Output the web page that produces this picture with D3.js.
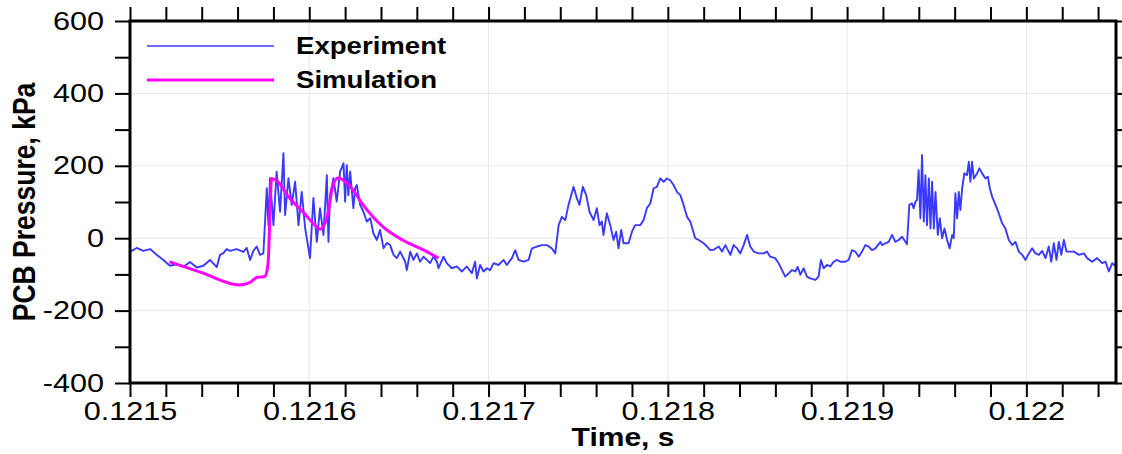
<!DOCTYPE html>
<html>
<head>
<meta charset="utf-8">
<script src="https://cdn.jsdelivr.net/npm/d3@7"></script>
<style>
  body { margin: 0; background: #fff; }
  svg { display: block; font-family: "Liberation Sans", Arial, sans-serif; }
</style>
</head>
<body>
<svg id="chart" width="1122" height="454"></svg>
<script>
// Experiment trace (time in s, pressure in kPa)
const expTime = [
  0.1215000, 0.1215037, 0.1215074, 0.1215112, 0.1215149, 0.1215186, 0.1215223, 0.1215260,
  0.1215298, 0.1215335, 0.1215372, 0.1215409, 0.1215446, 0.1215484, 0.1215502, 0.1215521,
  0.1215539, 0.1215558, 0.1215595, 0.1215632, 0.1215651, 0.1215670, 0.1215688, 0.1215707,
  0.1215725, 0.1215744, 0.1215763, 0.1215772, 0.1215781, 0.1215800, 0.1215818, 0.1215837,
  0.1215856, 0.1215865, 0.1215884, 0.1215902, 0.1215921, 0.1215940, 0.1215958, 0.1215977,
  0.1216004, 0.1216023, 0.1216042, 0.1216060, 0.1216079, 0.1216098, 0.1216107, 0.1216116,
  0.1216135, 0.1216153, 0.1216172, 0.1216191, 0.1216200, 0.1216209, 0.1216218, 0.1216228,
  0.1216246, 0.1216256, 0.1216265, 0.1216284, 0.1216302, 0.1216321, 0.1216340, 0.1216358,
  0.1216377, 0.1216395, 0.1216414, 0.1216433, 0.1216451, 0.1216470, 0.1216488, 0.1216507,
  0.1216535, 0.1216544, 0.1216563, 0.1216581, 0.1216600, 0.1216618, 0.1216637, 0.1216656,
  0.1216674, 0.1216693, 0.1216712, 0.1216721, 0.1216749, 0.1216767, 0.1216795, 0.1216823,
  0.1216851, 0.1216879, 0.1216907, 0.1216925, 0.1216935, 0.1216953, 0.1216972, 0.1216991,
  0.1217009, 0.1217028, 0.1217056, 0.1217084, 0.1217102, 0.1217130, 0.1217149, 0.1217167,
  0.1217195, 0.1217223, 0.1217242, 0.1217270, 0.1217298, 0.1217325, 0.1217353, 0.1217372,
  0.1217391, 0.1217409, 0.1217428, 0.1217446, 0.1217474, 0.1217493, 0.1217507, 0.1217526,
  0.1217545, 0.1217563, 0.1217586, 0.1217604, 0.1217619, 0.1217632, 0.1217641, 0.1217660,
  0.1217679, 0.1217697, 0.1217712, 0.1217725, 0.1217740, 0.1217753, 0.1217781, 0.1217800,
  0.1217818, 0.1217846, 0.1217865, 0.1217883, 0.1217902, 0.1217921, 0.1217939, 0.1217958,
  0.1217977, 0.1217995, 0.1218014, 0.1218032, 0.1218051, 0.1218070, 0.1218088, 0.1218107,
  0.1218125, 0.1218153, 0.1218172, 0.1218200, 0.1218219, 0.1218237, 0.1218256, 0.1218284,
  0.1218302, 0.1218321, 0.1218349, 0.1218367, 0.1218386, 0.1218404, 0.1218423, 0.1218442,
  0.1218460, 0.1218479, 0.1218507, 0.1218535, 0.1218553, 0.1218571, 0.1218599, 0.1218618,
  0.1218637, 0.1218655, 0.1218674, 0.1218693, 0.1218711, 0.1218724, 0.1218739, 0.1218758,
  0.1218776, 0.1218795, 0.1218823, 0.1218841, 0.1218854, 0.1218869, 0.1218888, 0.1218906,
  0.1218925, 0.1218944, 0.1218962, 0.1218990, 0.1219009, 0.1219027, 0.1219046, 0.1219065,
  0.1219083, 0.1219102, 0.1219121, 0.1219139, 0.1219158, 0.1219186, 0.1219195, 0.1219214,
  0.1219232, 0.1219251, 0.1219269, 0.1219288, 0.1219307, 0.1219325, 0.1219334, 0.1219347,
  0.1219362, 0.1219371, 0.1219381, 0.1219390, 0.1219399, 0.1219409, 0.1219418, 0.1219428,
  0.1219437, 0.1219446, 0.1219456, 0.1219465, 0.1219474, 0.1219484, 0.1219493, 0.1219506,
  0.1219517, 0.1219530, 0.1219543, 0.1219558, 0.1219572, 0.1219586, 0.1219595, 0.1219604,
  0.1219614, 0.1219623, 0.1219632, 0.1219642, 0.1219654, 0.1219669, 0.1219679, 0.1219688,
  0.1219697, 0.1219707, 0.1219725, 0.1219738, 0.1219753, 0.1219772, 0.1219785, 0.1219796,
  0.1219809, 0.1219828, 0.1219846, 0.1219865, 0.1219883, 0.1219902, 0.1219921, 0.1219939,
  0.1219958, 0.1219977, 0.1219995, 0.1220014, 0.1220032, 0.1220051, 0.1220070, 0.1220088,
  0.1220107, 0.1220125, 0.1220139, 0.1220153, 0.1220168, 0.1220181, 0.1220195, 0.1220209,
  0.1220224, 0.1220237, 0.1220265, 0.1220293, 0.1220321, 0.1220339, 0.1220367, 0.1220395,
  0.1220423, 0.1220442, 0.1220460, 0.1220479, 0.1220498
];
const expPressure = [
  -38, -27, -35, -30, -46, -60, -76, -72,
  -79, -66, -81, -76, -60, -80, -46, -41,
  -30, -35, -30, -38, -27, -60, -35, -23,
  -46, -42, 138, 36, 166, 36, 184, 73,
  235, 64, 166, 92, 156, 36, 128, 28,
  -55, 111, -10, 83, 9, 174, -10, 119,
  166, 101, 184, 207, 101, 202, 119, 184,
  83, 138, 147, 92, 73, 46, 55, 13,
  -5, 23, -28, -13, -19, -46, -55, -37,
  -65, -88, -37, -60, -42, -65, -51, -60,
  -69, -51, -65, -83, -51, -69, -83, -78,
  -92, -78, -97, -65, -111, -74, -92, -83,
  -88, -69, -74, -60, -74, -55, -33, -60,
  -65, -60, -28, -23, -19, -19, -28, -42,
  36, 59, 50, 92, 142, 110, 92, 142,
  119, 73, 50, 83, 36, 46, 9, 69,
  36, -5, 18, -28, 23, -14, -14, 18,
  36, 36, 50, 83, 96, 138, 142, 165,
  156, 165, 160, 147, 128, 119, 92, 59,
  46, 0, -5, -14, -23, -33, -32, -23,
  -37, -19, -46, -19, -28, -42, -19, 9,
  -23, -37, -42, -42, -37, -51, -55, -69,
  -88, -106, -97, -88, -92, -79, -101, -83,
  -106, -111, -115, -106, -60, -83, -74, -78,
  -65, -60, -65, -65, -60, -33, -37, -51,
  -37, -19, -23, -33, -28, -10, -19, -14,
  -10, 9, -10, -5, 4, -10, -17, 92,
  96, 83, 101, 106, 188, 55, 230, 46,
  174, 36, 165, 27, 156, 27, 128, 9,
  55, 0, 27, -5, -28, 9, 0, 124,
  55, 128, 78, 138, 179, 174, 211, 156,
  211, 165, 179, 193, 179, 165, 170, 138,
  115, 92, 69, 41, 27, -5, -19, -10,
  -37, -46, -60, -42, -28, -42, -46, -35,
  -55, -23, -65, -14, -60, -10, -46, -5,
  -37, -37, -37, -46, -42, -55, -65, -55,
  -69, -65, -92, -69, -78
];

// Simulation curve
const simTime = [
  0.121522, 0.121540, 0.121561, 0.121567, 0.121571, 0.1215753, 0.121577, 0.121579,
  0.121582, 0.121589, 0.121597, 0.121604, 0.121606, 0.121610, 0.121613, 0.121616,
  0.121623, 0.121630, 0.121641, 0.121652, 0.121664, 0.121672
];
const simPressure = [
  -65, -95, -129, -122, -108, -106, -70, 165,
  158, 111, 70, 32, 25, 59, 142, 166,
  142, 92, 32, -5, -33, -55
];

const xMajor = [0.1215, 0.1216, 0.1217, 0.1218, 0.1219, 0.122];
const xLabels = ['0.1215', '0.1216', '0.1217', '0.1218', '0.1219', '0.122'];
const yMajor = [-400, -200, 0, 200, 400, 600];
const yLabels = ['-400', '-200', '0', '200', '400', '600'];
const yMinor = [-300, -100, 100, 300, 500];
const seriesNames = ['Experiment', 'Simulation'];
const seriesColors = ['#3a3aff', '#ff00ff'];

const SX = 1.2; // text in the source is drawn a bit wide
const plotL = 130, plotR = 1116, plotT = 21, plotB = 383;

const svg = d3.select('#chart');
const x = d3.scaleLinear().domain([0.1215, 0.12205]).range([plotL, plotR]);
const y = d3.scaleLinear().domain([-400, 600]).range([plotB, plotT]);
const xMinor = d3.range(0, 28).map(i => 0.1215 + i * 0.00002);
const xMinorOnly = xMinor.filter(d => !xMajor.some(m => Math.abs(m - d) < 1e-9));

// grid
const grid = svg.append('g').attr('stroke', '#e6e6e6').attr('stroke-width', 1);
grid.selectAll('.gx').data(xMajor.slice(1)).join('line').attr('class', 'gx')
  .attr('x1', d => x(d)).attr('x2', d => x(d)).attr('y1', plotT).attr('y2', plotB);
grid.selectAll('.gy').data(yMajor.slice(1, -1)).join('line').attr('class', 'gy')
  .attr('x1', plotL).attr('x2', plotR).attr('y1', d => y(d)).attr('y2', d => y(d));

// series
svg.append('clipPath').attr('id', 'clip').append('rect')
  .attr('x', plotL).attr('y', plotT).attr('width', plotR - plotL).attr('height', plotB - plotT);

const expLine = d3.line().x(d => x(d[0])).y(d => y(d[1]));
svg.append('path')
  .datum(d3.zip(expTime, expPressure))
  .attr('clip-path', 'url(#clip)')
  .attr('fill', 'none').attr('stroke', seriesColors[0]).attr('stroke-width', 1.9)
  .attr('stroke-linejoin', 'round')
  .attr('d', expLine);

const simLine = d3.line().x(d => x(d[0])).y(d => y(d[1])).curve(d3.curveMonotoneX);
svg.append('path')
  .datum(d3.zip(simTime, simPressure))
  .attr('fill', 'none').attr('stroke', seriesColors[1]).attr('stroke-width', 3)
  .attr('stroke-linejoin', 'round')
  .attr('d', simLine);

// axes
const styleAxis = g => {
  g.select('.domain').remove();
  g.selectAll('.tick line').attr('stroke', '#000').attr('stroke-width', 2);
};
const tickFont = 25.5;

const xAxis = svg.append('g').attr('transform', `translate(0,${plotB})`)
  .call(d3.axisBottom(x).tickValues(xMajor).tickSize(14).tickPadding(5)
    .tickFormat((d, i) => xLabels[i]));
xAxis.call(styleAxis);
xAxis.selectAll('text').attr('fill', '#000').attr('font-size', tickFont)
  .attr('transform', `scale(${SX},1)`);
svg.append('g').attr('transform', `translate(0,${plotB})`)
  .call(d3.axisBottom(x).tickValues(xMinorOnly).tickSize(14).tickFormat(''))
  .call(styleAxis);

svg.append('g').attr('transform', `translate(0,${plotT})`)
  .call(d3.axisTop(x).tickValues(xMinor).tickSize(14).tickFormat(''))
  .call(styleAxis);

const yAxis = svg.append('g').attr('transform', `translate(${plotL},0)`)
  .call(d3.axisLeft(y).tickValues(yMajor).tickSize(15).tickPadding(11)
    .tickFormat((d, i) => yLabels[i]));
yAxis.call(styleAxis);
yAxis.selectAll('text').attr('fill', '#000').attr('font-size', tickFont)
  .attr('x', -26 / SX).attr('transform', `scale(${SX},1)`);
svg.append('g').attr('transform', `translate(${plotL},0)`)
  .call(d3.axisLeft(y).tickValues(yMinor).tickSize(15).tickFormat(''))
  .call(styleAxis);

svg.append('g').attr('transform', `translate(${plotR},0)`)
  .call(d3.axisRight(y).tickValues(yMajor.concat(yMinor)).tickSize(14).tickFormat(''))
  .call(styleAxis);

// frame
svg.append('rect')
  .attr('x', plotL).attr('y', plotT).attr('width', plotR - plotL).attr('height', plotB - plotT)
  .attr('fill', 'none').attr('stroke', '#000').attr('stroke-width', 3);

// axis titles
svg.append('text')
  .attr('transform', `translate(${(plotL + plotR) / 2},446) scale(${SX},1)`)
  .attr('text-anchor', 'middle').attr('font-weight', 'bold').attr('font-size', 25)
  .text('Time, s');
svg.append('text')
  .attr('transform', `translate(35,${(plotT + plotB) / 2}) rotate(-90) scale(1,${SX})`)
  .attr('text-anchor', 'middle').attr('font-weight', 'bold').attr('font-size', 26.5)
  .text('PCB Pressure, kPa');

// legend
const legend = svg.append('g');
seriesNames.forEach((name, i) => {
  const ly = 46 + i * 34;
  legend.append('line')
    .attr('x1', 147).attr('x2', 274).attr('y1', ly).attr('y2', ly)
    .attr('stroke', seriesColors[i]).attr('stroke-width', i ? 3 : 1.6);
  legend.append('text')
    .attr('transform', `translate(296,${ly + 8}) scale(${SX},1)`)
    .attr('font-weight', 'bold').attr('font-size', 23)
    .text(name);
});
</script>
</body>
</html>
